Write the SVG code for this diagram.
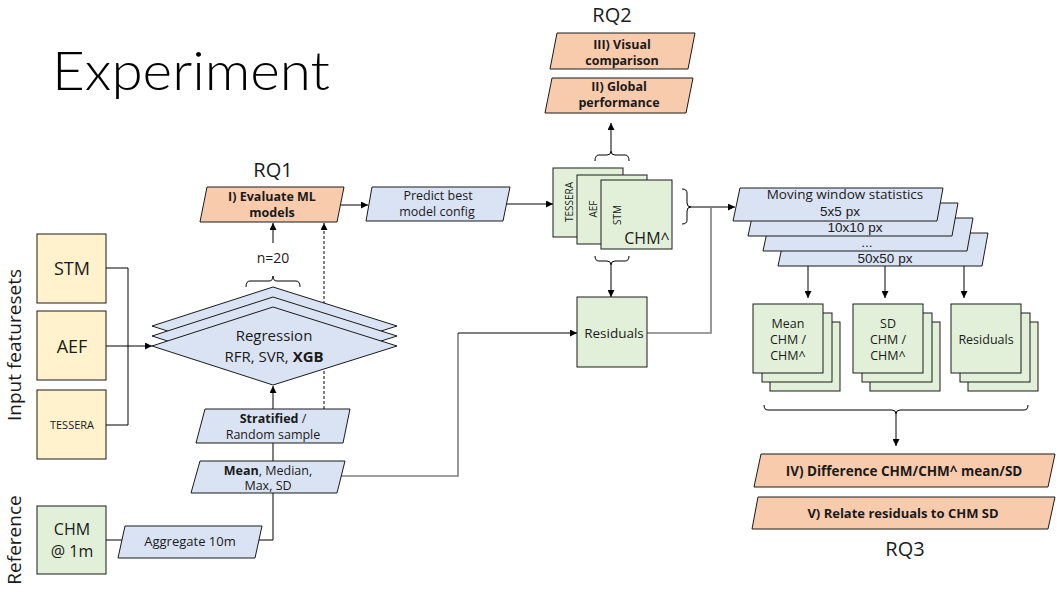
<svg xmlns="http://www.w3.org/2000/svg" width="1061" height="592" viewBox="0 0 1061 592">
<defs>
<marker id="ah" viewBox="0 0 10 10" refX="10" refY="5" markerWidth="7" markerHeight="7" orient="auto" markerUnits="userSpaceOnUse"><path d="M0,0 L10,5 L0,10 z" fill="#000"/></marker>
</defs>
<style>
text{font-family:"Open Sans","Noto Sans",sans-serif;fill:#1a1a1a;text-anchor:middle}
.t12{font-size:12.5px}
.t13{font-size:13.5px}
.mw{font-family:"Liberation Sans",Arial,sans-serif;font-size:13.5px}
.b{font-weight:bold}
.rq{font-size:20px}
.yel{fill:#FFF2CC;stroke:#1a1a1a;stroke-width:1}
.grn{fill:#E2F0D9;stroke:#1a1a1a;stroke-width:1}
.blu{fill:#DAE3F3;stroke:#1a1a1a;stroke-width:1}
.org{fill:#F8CBAD;stroke:#1a1a1a;stroke-width:1}
.ln{fill:none;stroke:#000;stroke-width:1}
.gr{fill:none;stroke:#7f7f7f;stroke-width:1.6}
.arr{marker-end:url(#ah)}
</style>
<rect width="1061" height="592" fill="#fff"/>
<text x="52" y="90" textLength="278" lengthAdjust="spacingAndGlyphs" style="font-family:Lato,'Open Sans',sans-serif;font-size:53px;font-weight:300;fill:#000;text-anchor:start">Experiment</text>
<text transform="translate(21,345) rotate(-90)" style="font-size:19px">Input featuresets</text>
<text transform="translate(21,540) rotate(-90)" style="font-size:19px">Reference</text>
<text class="rq" x="273" y="177">RQ1</text>
<text class="rq" x="612" y="22">RQ2</text>
<text class="rq" x="905" y="556">RQ3</text>

<g id="connectors">
<path class="ln" d="M106,268 H128 V425 H106"/>
<path class="ln arr" d="M106,346 H152"/>
<path class="ln arr" d="M273,409 V386"/>
<path class="ln" d="M246,287 Q246,281 250,281 H269 Q273,281 273,276 Q273,281 277,281 H296 Q300,281 300,287"/>
<path class="ln arr" d="M273,243 V223"/>
<path class="ln arr" d="M324,409 V223" stroke-dasharray="3,2"/>
<path class="ln arr" d="M341,205 H368"/>
<path class="ln arr" d="M506,204 H553"/>
<path class="ln" d="M595,161 Q595,155 599,155 H607 Q611,155 611,151 Q611,155 615,155 H625 Q629,155 629,161"/>
<path class="ln arr" d="M611,151 V123"/>
<path class="ln" d="M595,256 Q595,261 599,261 H607 Q611,261 611,265 Q611,261 615,261 H625 Q629,261 629,256"/>
<path class="ln arr" d="M611,265 V297"/>
<path class="ln" d="M682,189 Q687,189 687,193 V203 Q687,207 691,207 Q687,207 687,211 V220 Q687,224 682,224"/>
<path class="ln arr" d="M691,207 H735"/>
<path class="gr" d="M647,333 H711 V207"/>
<path class="gr" d="M341,476 H458 V333"/>
<path class="ln arr" d="M458,333 H577"/>
<path class="ln" d="M273,443 V461"/>
<path class="ln" d="M273,493 V540 H258"/>
<path class="ln" d="M106,540 H122"/>
<path class="ln arr" d="M808,266 V298"/>
<path class="ln arr" d="M885,266 V298"/>
<path class="ln arr" d="M964,266 V298"/>
<path class="ln" d="M764,405 Q764,410 768,410 H892 Q896,410 896,414 Q896,410 900,410 H1024 Q1028,410 1028,405"/>
<path class="ln arr" d="M896,414 V446"/>
</g>

<g id="stm"><rect class="yel" x="37" y="234" width="69" height="69"/><text x="72" y="275" style="font-size:18px">STM</text></g>
<g id="aef"><rect class="yel" x="37" y="311" width="69" height="69"/><text x="72" y="353" style="font-size:18px">AEF</text></g>
<g id="tessera"><rect class="yel" x="37" y="390" width="69" height="69"/><text x="72" y="429" style="font-size:11px">TESSERA</text></g>
<g id="chm"><rect class="grn" x="37" y="506" width="69" height="68"/><text x="72" y="535" style="font-size:16px">CHM</text><text x="72" y="557" style="font-size:16px">@ 1m</text></g>

<g id="aggregate"><polygon class="blu" points="125,526 262,526 255,558 118,558"/><text class="t12" x="190" y="546" style="font-size:13px">Aggregate 10m</text></g>
<g id="mean"><polygon class="blu" points="200,461 345,461 337,493 191,493"/><text class="t12" x="268" y="475"><tspan class="b">Mean</tspan>, Median,</text><text class="t12" x="268" y="490">Max, SD</text></g>
<g id="sample"><polygon class="blu" points="205,409 350,409 343,443 196,443"/><text class="t12" x="273" y="423"><tspan class="b">Stratified</tspan> /</text><text class="t12" x="273" y="439">Random sample</text></g>

<g id="regression">
<polygon class="blu" points="152,326 273,287 397,326 273,365"/>
<polygon class="blu" points="152,336 273,297 397,336 273,375"/>
<polygon class="blu" points="152,346 273,307 397,346 273,385"/>
<text x="274" y="341" style="font-size:15px">Regression</text>
<text x="274" y="362" style="font-size:15px">RFR, SVR, <tspan class="b">XGB</tspan></text>
</g>
<text id="n20" x="273" y="263" style="font-size:14px">n=20</text>

<g id="evaluate"><polygon class="org" points="207,187 344,187 337,222 200,222"/><text class="t12 b" x="272" y="201">I) Evaluate ML</text><text class="t12 b" x="272" y="217">models</text></g>
<g id="predict"><polygon class="blu" points="372,187 510,187 503,221 366,221"/><text class="t12" x="438" y="200">Predict best</text><text class="t12" x="437" y="216">model config</text></g>

<g id="chm-stack">
<rect class="grn" x="553" y="168" width="70" height="69"/>
<rect class="grn" x="577" y="175" width="70" height="69"/>
<rect class="grn" x="601" y="180" width="71" height="69"/>
<text transform="translate(573,202) rotate(-90)" style="font-size:10px">TESSERA</text>
<text transform="translate(597,209) rotate(-90)" style="font-size:10px">AEF</text>
<text transform="translate(621,215) rotate(-90)" style="font-size:10px">STM</text>
<text x="647" y="244" style="font-size:16px">CHM^</text>
</g>

<g id="global"><polygon class="org" points="552,78 693,78 686,113 545,113"/><text class="t12 b" x="619" y="91">II) Global</text><text class="t12 b" x="619" y="107">performance</text></g>
<g id="visual"><polygon class="org" points="557,33 695,33 688,69 550,69"/><text class="t12 b" x="622" y="49">III) Visual</text><text class="t12 b" x="622" y="65">comparison</text></g>

<g id="residuals"><rect class="grn" x="577" y="297" width="70" height="70"/><text class="t13" x="614" y="338">Residuals</text></g>

<g id="moving-window">
<polygon class="blu" points="785,233 988,233 982,266 778,266"/>
<polygon class="blu" points="770,218 973,218 967,251 763,251"/>
<polygon class="blu" points="755,203 958,203 952,236 748,236"/>
<polygon class="blu" points="740,188 943,188 937,221 733,221"/>
<text class="t13" x="845" y="199">Moving window statistics</text>
<text class="mw" x="840" y="216">5x5 px</text>
<text class="mw" x="855" y="231.5">10x10 px</text>
<text class="mw" x="867" y="247">...</text>
<text class="mw" x="885" y="262.5">50x50 px</text>
</g>

<g id="mean-stack">
<rect class="grn" x="770" y="322" width="70" height="69"/>
<rect class="grn" x="762" y="313" width="70" height="69"/>
<rect class="grn" x="753" y="304" width="70" height="69"/>
<text class="t12" x="788" y="328">Mean</text><text class="t12" x="788" y="344">CHM /</text><text class="t12" x="788" y="360">CHM^</text>
</g>
<g id="sd-stack">
<rect class="grn" x="870" y="322" width="70" height="69"/>
<rect class="grn" x="862" y="313" width="70" height="69"/>
<rect class="grn" x="853" y="304" width="70" height="69"/>
<text class="t12" x="888" y="328">SD</text><text class="t12" x="888" y="344">CHM /</text><text class="t12" x="888" y="360">CHM^</text>
</g>
<g id="res-stack">
<rect class="grn" x="968" y="322" width="70" height="69"/>
<rect class="grn" x="960" y="313" width="70" height="69"/>
<rect class="grn" x="951" y="304" width="70" height="69"/>
<text class="t12" x="986" y="344">Residuals</text>
</g>

<g id="diff"><polygon class="org" points="761,454 1055,454 1048,487 754,487"/><text class="b" x="904" y="476" style="font-size:13.5px">IV) Difference CHM/CHM^ mean/SD</text></g>
<g id="relate"><polygon class="org" points="758,497 1055,497 1048,529 752,529"/><text class="b" x="903" y="518" style="font-size:13px">V) Relate residuals to CHM SD</text></g>
</svg>
